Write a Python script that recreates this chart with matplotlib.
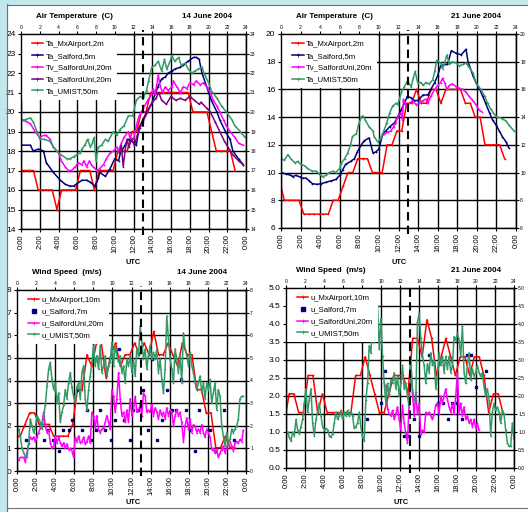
import numpy as np
import matplotlib
matplotlib.use("Agg")
from matplotlib import pyplot as plt
from matplotlib.patches import Rectangle
from matplotlib.lines import Line2D

plt.rcParams['font.family'] = ['Liberation Sans', 'DejaVu Sans']

# ---------------- data ----------------
# airport reports (hh:20 / hh:50)
hrs_ap = np.r_[0, np.arange(1 / 3, 23, 0.5)]

# 14 June - air temperature
ta_ap_14 = [17, 17, 17, 17, 16, 16, 16, 16, 15, 16, 16, 16, 16, 17, 17, 17, 16, 17, 17, 17,
            17, 18, 18, 18, 19, 19, 20, 20, 21, 21, 21, 21, 21, 21, 21, 21, 21, 20, 20, 20,
            20, 19, 18, 18, 18, 18, 17]
h_sal_14 = [0, 1.0, 1.3, 1.85, 2.4, 2.7, 3.45, 4.2, 4.7, 5.2, 5.6, 5.9, 6.5, 7.0, 7.4, 7.9,
            8.25, 8.4, 9.0, 9.5, 10.0, 10.4, 10.6, 11.1, 11.4, 11.8, 12.3, 12.6, 13.0, 13.4,
            13.9, 14.3, 14.6, 15.0, 15.4, 15.7, 16.1, 16.4, 17.0, 17.3, 17.8, 18.4, 18.7,
            19.0, 19.3, 19.8, 20.3, 20.9, 21.2, 21.8, 22.3, 22.6, 23.2, 23.7]
ta_sal_14 = [18.3, 18.3, 18.0, 18.1, 18.0, 17.4, 16.9, 16.5, 16.3, 16.2, 16.2, 16.3, 16.5,
             16.5, 16.4, 16.2, 16.6, 16.9, 16.7, 17.1, 17.6, 17.5, 17.9, 18.3, 18.6, 18.5,
             18.3, 19.2, 19.6, 20.0, 20.4, 20.9, 21.3, 21.7, 21.8, 22.0, 22.1, 22.2, 22.3,
             22.4, 22.6, 22.8, 22.8, 22.7, 22.0, 21.3, 20.6, 20.0, 19.6, 19.0, 18.6, 18.0,
             17.6, 17.3]
h_tvsu_14 = [0, 0.6, 1.0, 1.5, 2.0, 2.4, 2.7, 3.1, 3.45, 4.0, 4.3, 4.7, 5.05, 5.4, 5.8, 6.1,
             6.5, 6.7, 7.0, 7.3, 7.5, 7.7, 8.1, 8.4, 8.8, 9.1, 9.5, 9.85, 10.2, 10.4, 10.7,
             11.0, 11.45, 11.6, 12.0, 12.3, 12.6, 13.05, 13.4, 13.9, 14.1, 14.3, 14.65, 14.8,
             15.1, 15.4, 15.7, 16.1, 16.25, 16.6, 17.0, 17.3, 17.7, 18.0, 18.4, 18.7, 19.1,
             19.45, 19.8, 20.2, 20.5, 20.9, 21.2, 21.6, 21.9, 22.3, 22.8, 23.2, 23.7]
tv_su_14 = [19.6, 19.5, 19.4, 19.0, 18.7, 18.8, 18.8, 18.6, 18.2, 17.9, 17.5, 17.2, 17.0,
            17.0, 17.2, 17.4, 17.3, 17.5, 17.2, 17.5, 17.3, 17.2, 17.0, 17.1, 17.3, 17.6,
            17.9, 18.0, 18.2, 18.0, 18.4, 18.7, 19.0, 18.7, 18.6, 19.3, 19.8, 20.2, 20.5,
            20.9, 21.2, 20.9, 21.9, 21.4, 21.0, 21.3, 21.1, 21.3, 21.6, 21.3, 21.0, 21.3,
            21.2, 21.5, 21.4, 21.6, 21.4, 21.5, 21.3, 21.0, 20.6, 20.3, 20.0, 19.6, 19.3,
            19.0, 18.7, 18.4, 18.3]
h_tasu_14 = [10.5, 10.7, 10.9, 11.1, 11.3, 11.5, 11.8, 12.1, 12.4, 12.7, 13.0, 13.5, 14.0,
             14.4, 14.7, 15.0, 15.5, 16.0, 16.5, 17.0, 17.5, 18.0, 18.5, 19.0, 19.2, 19.8,
             20.2, 20.7, 21.2, 21.7, 22.2, 22.6, 23.2, 23.7]
ta_su_14 = [17.9, 18.3, 17.2, 18.0, 18.6, 18.2, 18.6, 18.3, 18.8, 19.2, 19.5, 20.0, 20.5,
            20.7, 21.0, 20.6, 20.4, 20.8, 20.6, 20.7, 20.6, 20.8, 20.6, 20.4, 20.5, 20.2,
            20.0, 19.5, 19.0, 18.5, 18.1, 17.8, 17.5, 17.3]
h_um_14 = [0, 0.4, 1.0, 1.3, 1.7, 2.0, 2.5, 3.1, 3.45, 4.0, 4.3, 4.9, 5.2, 5.6, 5.9, 6.3, 6.5,
           6.8, 7.1, 7.4, 7.6, 7.8, 8.0, 8.25, 8.6, 9.0, 9.3, 9.85, 10.2, 10.55, 11.0, 11.45,
           11.9, 12.3, 12.7, 13.05, 13.4, 13.6, 13.95, 14.3, 14.65, 15.0, 15.3, 15.55, 15.9,
           16.1, 16.4, 16.8, 17.1, 17.5, 17.85, 18.2, 18.55, 18.9, 19.3, 19.6, 20.0, 20.3,
           20.9, 21.4, 21.9, 22.5, 22.8, 23.4, 23.9]
ta_um_14 = [19.6, 19.6, 19.7, 19.5, 19.0, 18.6, 18.6, 18.5, 18.2, 17.9, 17.8, 17.6, 17.6,
            17.7, 17.8, 17.9, 18.1, 18.3, 18.6, 18.2, 18.4, 18.7, 17.5, 18.2, 18.3, 18.6,
            18.5, 19.0, 18.8, 19.1, 19.3, 19.8, 19.8, 20.6, 20.8, 20.7, 21.1, 21.6, 22.3,
            22.4, 22.6, 22.1, 22.7, 22.2, 22.6, 22.9, 22.6, 22.8, 22.4, 22.5, 22.2, 22.0,
            22.1, 22.2, 22.3, 21.9, 21.5, 21.1, 20.7, 20.3, 20.0, 19.6, 19.3, 19.0, 18.7]

# 21 June - air temperature
ta_ap_21 = [9, 8, 8, 8, 8, 7, 7, 7, 7, 7, 7, 8, 8, 9, 10, 10, 11, 11, 11, 10, 10, 10, 12, 12,
            13, 13, 15, 15, 16, 15, 15, 16, 16, 15, 16, 16, 16, 16, 15, 15, 14, 14, 12, 12,
            12, 12, 11]
h_sal_21 = [0, 0.5, 1.0, 1.2, 1.5, 1.9, 2.2, 2.55, 2.9, 3.2, 3.7, 4.1, 4.6, 5.1, 5.6, 6.0, 6.3,
            6.6, 7.1, 7.5, 7.8, 8.2, 8.5, 9.0, 9.4, 9.7, 10.0, 10.4, 10.7, 11.1, 11.6, 11.9,
            12.25, 12.6, 12.9, 13.3, 13.6, 14.0, 14.5, 15.0, 15.3, 15.7, 16.0, 16.3, 16.7,
            17.0, 17.4, 17.9, 18.4, 18.9, 19.1, 19.6, 19.9, 20.3, 20.6, 20.9, 21.3, 21.6,
            22.0, 22.3, 22.6, 23.0, 23.25]
ta_sal_21 = [10.0, 9.9, 9.8, 9.7, 9.8, 9.7, 9.6, 9.6, 9.4, 9.2, 9.15, 9.2, 9.3, 9.4, 9.5, 9.8,
             10.2, 10.6, 10.8, 11.0, 11.5, 12.0, 12.3, 12.5, 11.4, 11.5, 11.7, 12.8, 13.0,
             13.3, 13.6, 14.0, 14.5, 15.0, 15.5, 15.4, 15.2, 15.2, 15.6, 15.6, 16.0, 16.5,
             17.0, 17.7, 17.8, 17.8, 18.8, 18.6, 18.5, 18.9, 18.0, 17.0, 16.5, 16.0, 15.5,
             15.0, 14.3, 13.8, 13.4, 13.0, 12.6, 12.2, 11.8]
h_tvsu_21 = [10.55, 10.9, 11.2, 11.5, 11.7, 11.9, 12.25, 12.4, 12.5, 12.8, 13.1, 13.45, 13.8,
             14.1, 14.5, 14.8, 15.0, 15.3, 15.7, 16.0, 16.3, 16.5, 16.7, 16.95, 17.2, 17.5,
             17.9, 18.2, 18.55, 18.9, 19.2, 19.6, 19.9, 20.25, 20.5]
tv_su_21 = [12.8, 12.9, 13.0, 13.3, 13.6, 14.0, 14.3, 13.8, 15.3, 14.8, 15.0, 15.2, 14.9,
            15.0, 15.2, 15.3, 15.0, 15.5, 16.0, 16.3, 16.5, 16.8, 16.5, 16.0, 16.3, 16.4,
            16.2, 16.1, 16.0, 15.8, 15.5, 15.2, 14.9, 14.5, 14.4]
h_um_21 = [0, 0.35, 0.7, 1.0, 1.4, 1.7, 2.0, 2.4, 2.7, 3.2, 3.6, 3.9, 4.25, 4.6, 4.9, 5.3, 5.6,
           6.0, 6.1, 6.5, 6.8, 7.1, 7.3, 7.7, 7.9, 8.2, 8.35, 8.6, 9.0, 9.4, 9.5, 9.9, 10.2,
           10.55, 10.8, 11.1, 11.4, 11.75, 11.9, 12.1, 12.3, 12.6, 12.9, 13.0, 13.3, 13.5,
           13.7, 13.95, 14.3, 14.5, 14.8, 15.15, 15.5, 15.7, 15.9, 16.3, 16.5, 16.7, 16.95,
           17.2, 17.5, 17.9, 18.2, 18.55, 18.9, 19.2, 19.6, 19.9, 20.4, 20.8, 21.1, 21.4,
           21.8, 22.1, 22.6, 23.0, 23.3, 23.8]
ta_um_21 = [11.0, 10.9, 11.3, 11.0, 10.7, 10.8, 10.6, 10.5, 10.3, 10.1, 10.1, 9.9, 9.7, 9.8,
            10.0, 10.1, 10.0, 10.3, 10.6, 11.0, 11.4, 12.0, 12.6, 12.8, 13.4, 14.0, 14.1,
            13.8, 13.3, 13.0, 12.6, 12.2, 12.5, 13.1, 13.6, 14.3, 14.8, 15.0, 14.9, 15.3,
            15.8, 16.2, 16.6, 16.5, 16.2, 16.8, 17.3, 16.5, 16.5, 16.3, 16.5, 16.4, 16.7,
            17.3, 18.1, 17.9, 17.5, 17.9, 18.5, 17.8, 18.0, 17.9, 17.7, 17.8, 17.9, 17.6,
            17.2, 16.5, 16.0, 15.5, 15.0, 14.6, 14.2, 14.0, 13.9, 13.7, 13.4, 13.0]

# 14 June - wind speed
u_ap_14 = [1.54, 1.54, 2.06, 2.57, 2.57, 2.06, 2.06, 2.06, 1.54, 1.54, 1.54, 1.54, 2.06, 3.6,
           3.6, 5.14, 4.63, 5.66, 5.66, 4.12, 5.14, 5.66, 4.63, 5.14, 5.14, 5.66, 5.14, 5.66,
           5.14, 6.17, 5.14, 5.14, 5.66, 5.14, 4.63, 5.66, 5.14, 5.14, 3.6, 3.6, 2.57, 2.57,
           1.03, 1.03, 1.54, 1.03, 1.03]
h_usal_14 = [0.9, 2.8, 3.3, 3.8, 4.35, 4.8, 5.4, 5.75, 6.3, 6.8, 7.3, 7.8, 8.3, 8.7, 9.2, 9.8,
             10.3, 10.7, 11.2, 11.8, 12.2, 12.7, 13.2, 13.7, 14.2, 14.7, 15.2, 15.7, 16.2,
             16.7, 17.2, 17.7, 18.1, 18.7, 19.1, 20.2, 20.7, 21.7, 22.7]
u_sal_14 = [1.35, 1.35, 1.8, 1.35, 0.9, 1.8, 1.8, 2.25, 3.6, 1.8, 2.7, 1.35, 1.8, 2.7, 1.8,
            1.35, 2.25, 5.4, 2.25, 1.35, 2.7, 2.7, 3.6, 1.8, 4.95, 1.35, 2.25, 3.6, 2.7, 2.7,
            4.05, 2.7, 1.8, 0.9, 2.7, 1.8, 0.9, 2.7, 1.35]
u_su_14 = [0.5, 0.5, 0.6, 0.6, 0.6, 0.4, 0.8, 1.2, 1.5, 1.4,
           1.5, 1.3, 1.5, 1.7, 1.9, 2.1, 2.6, 2.0, 1.7, 1.8,
           1.25, 1.0, 1.1, 1.55, 1.25, 1.5, 1.25, 1.1, 1.25, 1.0,
           1.2, 0.95, 1.0, 0.9, 0.6, 1.5, 1.3, 1.55, 1.25, 1.3,
           1.5, 1.2, 1.3, 1.55, 1.25, 2.6, 2.45, 1.9, 2.45, 1.8,
           1.7, 1.85, 1.9, 2.15, 2.45, 2.15, 1.85, 3.6, 3.3, 2.6,
           3.2, 4.35, 3.2, 2.45, 2.6, 2.15, 2.7, 2.15, 3.2, 2.45,
           2.7, 3.3, 2.6, 2.7, 2.9, 2.45, 3.45, 3.3, 2.6, 2.7,
           2.6, 2.95, 2.45, 2.8, 2.6, 2.3, 2.7, 2.45, 2.6, 2.3,
           2.8, 2.45, 2.7, 2.6, 2.0, 2.45, 2.7, 2.45, 2.6, 2.15,
           1.3, 2.0, 2.35, 1.85, 2.3, 1.7, 2.05, 2.0, 1.7, 1.85,
           1.7, 2.05, 1.7, 1.5, 1.85, 1.7, 1.5, 0.95, 1.0, 0.8,
           0.95, 0.6, 0.8, 0.95, 1.1, 0.8, 1.0, 1.3, 1.3, 1.1,
           0.9, 1.25, 1.3, 1.25, 1.4, 1.3, 1.8]
u_um_14 = [1.8, 1.85, 1.5, 1.0, 0.8, 0.65, 0.6, 1.25, 2.3, 2.0,
           1.7, 1.9, 2.45, 2.3, 2.15, 1.85, 2.45, 2.9, 3.75, 4.5,
           4.8, 4.05, 3.6, 3.9, 3.0, 3.45, 2.15, 2.6, 2.9, 3.6,
           3.2, 3.9, 4.35, 3.7, 3.3, 3.0, 3.7, 3.9, 3.2, 4.35,
           4.65, 3.2, 2.7, 3.6, 4.2, 4.8, 5.55, 4.65, 5.1, 4.5,
           5.55, 4.35, 4.65, 5.1, 4.2, 4.65, 4.8, 5.7, 4.65, 5.55,
           5.1, 4.8, 5.1, 4.35, 4.65, 3.9, 4.95, 4.65, 5.1, 4.35,
           4.95, 4.2, 5.4, 5.1, 6.4, 5.7, 4.95, 5.4, 4.5, 5.1,
           5.55, 4.95, 5.25, 4.95, 5.4, 4.35, 4.95, 4.05, 3.45, 4.5,
           6.85, 5.85, 4.95, 4.5, 3.9, 5.4, 4.95, 4.35, 5.1, 3.9,
           6.1, 5.4, 5.1, 4.65, 5.25, 4.65, 4.35, 3.9, 3.6, 3.9,
           4.2, 3.45, 3.9, 3.2, 3.9, 3.6, 4.05, 3.0, 3.45, 3.9,
           2.7, 3.6, 3.3, 2.0, 1.55, 1.1, 1.7, 1.25, 1.4, 1.85,
           1.7, 1.85, 2.0, 2.3, 3.2, 3.3, 3.3]

# 21 June - wind speed
u_ap_21 = [1.54, 2.06, 2.06, 1.54, 1.54, 2.57, 2.57, 1.54, 2.06, 1.54, 1.54, 1.54, 1.54, 1.54,
           1.54, 2.57, 2.57, 3.09, 2.57, 2.06, 1.54, 1.54, 2.06, 2.57, 2.57, 2.57, 2.06, 3.6,
           3.6, 3.09, 4.12, 3.6, 2.57, 3.09, 3.6, 3.09, 2.57, 3.09, 3.09, 2.57, 3.09, 3.09,
           2.57, 1.54, 2.06, 2.06, 1.54]
h_usal_21 = [8.5, 10.0, 10.45, 12.4, 12.95, 13.5, 14.0, 15.0, 16.0, 16.55, 17.0, 17.5, 18.0,
             18.5, 19.0, 19.5, 20.0, 21.0]
u_sal_21 = [1.35, 1.8, 2.7, 0.9, 0.9, 1.35, 0.9, 3.15, 1.8, 1.8, 1.35, 1.8, 1.8, 1.35, 3.15,
            3.15, 2.25, 2.7]
u_su_21 = [2.3, 1.65, 1.5, 1.45, 1.6, 1.35, 1.5, 1.7, 1.35, 1.05,
           1.75, 1.25, 0.95, 0.7, 1.85, 2.85, 2.1, 1.45, 2.1, 1.5,
           1.8, 0.95, 1.05, 1.0, 1.55, 1.5, 1.55, 1.45, 1.35, 1.5,
           1.75, 1.8, 1.5, 2.0, 1.8, 2.0, 2.2, 1.9, 1.7, 1.55,
           1.8, 1.5, 2.0, 2.65, 1.5, 1.8, 1.45, 1.7, 1.35, 1.45,
           1.25, 1.35, 1.15, 1.35, 1.1, 1.25, 1.05]
u_um_21 = [0.93, 1.0, 0.85, 0.75, 1.0, 0.9, 1.35, 1.05, 0.95, 1.15,
           1.35, 1.8, 2.2, 1.55, 1.9, 2.2, 1.25, 0.9, 1.35, 1.55,
           1.8, 1.45, 1.15, 1.05, 1.1, 1.05, 0.9, 0.85, 0.95, 1.25,
           1.55, 1.35, 1.45, 1.6, 1.35, 1.55, 1.45, 1.6, 1.45, 1.55,
           1.45, 1.1, 1.15, 1.25, 1.55, 1.15, 0.85, 0.75, 1.9, 2.35,
           3.4, 3.2, 4.05, 3.5, 4.25, 4.5, 3.3, 4.15, 3.1, 2.35,
           1.8, 2.35, 2.0, 2.45, 2.35, 2.65, 2.2, 2.55, 2.0, 2.35,
           2.85, 2.2, 2.35, 2.0, 1.7, 3.0, 2.2, 1.9, 1.9, 4.05,
           4.3, 3.6, 3.1, 2.85, 2.35, 2.9, 2.65, 3.2, 2.85, 3.0,
           2.2, 2.55, 3.2, 2.85, 3.1, 2.65, 3.1, 2.75, 3.1, 2.65,
           2.85, 3.65, 3.55, 3.75, 3.55, 3.1, 3.95, 2.65, 2.35, 2.85,
           3.2, 2.45, 2.75, 2.55, 2.65, 2.85, 2.65, 2.55, 2.65, 2.25,
           2.0, 2.2, 1.9, 0.9, 1.55, 1.8, 1.6, 1.7, 1.55, 1.25,
           1.6, 1.5, 1.05, 0.7, 0.6, 0.6, 1.25, 0.8]

# 10-minute series time bases
t_su_14 = np.linspace(0, 23.72, len(u_su_14))
t_um_14 = np.linspace(0, 23.72, len(u_um_14))
t_su_21 = np.linspace(10.51, 20.32, len(u_su_21))
t_um_21 = np.linspace(0, 24, len(u_um_21))

RED, NAVY, MAG, PURP, GRN = '#ff0000', '#000080', '#ff00ff', '#800080', '#339966'
W, H = 528, 512


def rect(l, t, r, b):
    return [l / W, 1 - b / H, (r - l) / W, (b - t) / H]


def style(ax, ylim, yticks, ylabels):
    ax.set_xlim(0, 24)
    ax.set_ylim(*ylim)
    hours = list(range(0, 25, 2))
    ax.set_xticks(hours)
    ax.set_xticklabels(['%d:00' % (h % 24) for h in hours], rotation=90, fontsize=5.5)
    ax.set_yticks(yticks)
    ax.set_yticklabels(ylabels, fontsize=6)
    ax.tick_params(axis='x', length=2, direction='out', pad=2)
    ax.tick_params(axis='y', length=4, direction='inout', pad=2)
    ax.grid(True, color='black', lw=1.0)
    ax.set_axisbelow(True)
    for s in ax.spines.values():
        s.set_linewidth(1.0)
    top = ax.secondary_xaxis('top')
    top.set_xticks(hours)
    top.tick_params(labelsize=3.6, direction='inout', length=4, pad=1)
    right = ax.secondary_yaxis('right')
    right.set_yticks(yticks)
    right.set_yticklabels(ylabels)
    right.tick_params(labelsize=3.6, direction='inout', length=4, pad=1)
    ax.plot([13, 13], [-0.03, 1.02], transform=ax.get_xaxis_transform(), color='black',
            lw=1.5, dashes=(4, 2.5), clip_on=False, zorder=5)


def legend(ax):
    leg = ax.legend(loc='upper left', bbox_to_anchor=(6 / 228, 1 - 2 / 190), borderaxespad=0,
                    borderpad=0.6, prop={'size': 5.6}, handlelength=1.5, handletextpad=0.3,
                    labelspacing=0.55, frameon=True, facecolor='white', edgecolor='none',
                    framealpha=1, fancybox=False, markerscale=1.8)
    leg.set_zorder(6)
    return leg


def cover(ax, leg):
    # white strip between the axis edge and the legend box
    fig.canvas.draw()
    bb = leg.get_window_extent().transformed(ax.transAxes.inverted())
    ax.add_patch(Rectangle((0, bb.y0), bb.x1, 1 - bb.y0, transform=ax.transAxes,
                           facecolor='white', edgecolor='none', zorder=1))


kw = dict(lw=1.1, marker='+', ms=1.6, mew=0.5)

fig = plt.figure(figsize=(W / 100, H / 100), dpi=100)

# background frame
fig.patches.append(Rectangle((0, 0), 7 / W, 1, transform=fig.transFigure, color='#c2e8ec', zorder=-5))
fig.patches.append(Rectangle((0, 1 - 4 / H), 1, 4 / H, transform=fig.transFigure, color='#c2e8ec', zorder=-5))
for xs, ys in [([7 / W, 7 / W], [0, 1 - 4 / H]), ([7 / W, 1], [1 - 4.5 / H, 1 - 4.5 / H]),
               ([7 / W, 1], [1 - 508 / H, 1 - 508 / H])]:
    fig.add_artist(Line2D(xs, ys, transform=fig.transFigure, color='#707070', lw=0.8))

# ---- panel 1: air temperature 14 June
ax1 = fig.add_axes(rect(21, 34, 246, 229))
ax1.plot(hrs_ap, ta_ap_14, color=RED, label='Ta_MxAirport,2m', **kw)
ax1.plot(h_sal_14, ta_sal_14, color=NAVY, label='Ta_Salford,5m', **kw)
ax1.plot(h_tvsu_14, tv_su_14, color=MAG, label='Tv_SalfordUni,20m', **kw)
ax1.plot(h_tasu_14, ta_su_14, color=PURP, label='Ta_SalfordUni,20m', **kw)
ax1.plot(h_um_14, ta_um_14, color=GRN, label='Ta_UMIST,50m', **kw)
style(ax1, (14, 24), list(range(14, 25)), [str(v) for v in range(14, 25)])
leg1 = legend(ax1)

# ---- panel 2: air temperature 21 June
ax2 = fig.add_axes(rect(281, 34, 516, 228))
ax2.plot(hrs_ap, ta_ap_21, color=RED, label='Ta_MxAirport,2m', **kw)
ax2.plot(h_sal_21, ta_sal_21, color=NAVY, label='Ta_Salford,5m', **kw)
ax2.plot(h_tvsu_21, tv_su_21, color=MAG, label='Tv_SalfordUni,20m', **kw)
ax2.plot(h_um_21, ta_um_21, color=GRN, label='Ta_UMIST,50m', **kw)
style(ax2, (6, 20), list(range(6, 21, 2)), [str(v) for v in range(6, 21, 2)])
leg2 = legend(ax2)

# ---- panel 3: wind speed 14 June
ax3 = fig.add_axes(rect(17, 290, 246, 471))
ax3.plot(hrs_ap, u_ap_14, color=RED, label='u_MxAirport,10m', **kw)
ax3.plot(h_usal_14, u_sal_14, ls='none', marker='s', ms=1.5, color=NAVY, label='u_Salford,7m')
ax3.plot(t_su_14, u_su_14, color=MAG, label='u_SalfordUni,20m', **kw)
ax3.plot(t_um_14, u_um_14, color=GRN, label='u_UMIST,50m', **kw)
style(ax3, (0, 8), list(range(0, 9)), [str(v) for v in range(0, 9)])
leg3 = legend(ax3)

# ---- panel 4: wind speed 21 June
ax4 = fig.add_axes(rect(286, 288, 514, 468))
ax4.plot(hrs_ap, u_ap_21, color=RED, label='u_MxAirport,10m', **kw)
ax4.plot(h_usal_21, u_sal_21, ls='none', marker='s', ms=1.5, color=NAVY, label='u_Salford,7m')
ax4.plot(t_su_21, u_su_21, color=MAG, label='u_SalfordUni,20m', **kw)
ax4.plot(t_um_21, u_um_21, color=GRN, label='u_UMIST,50m', **kw)
yt4 = [i * 0.5 for i in range(11)]
style(ax4, (0, 5), yt4, ['%.1f' % v for v in yt4])
leg4 = legend(ax4)

# titles and axis captions
tkw = dict(fontsize=5.8, fontweight='bold', va='center')
fig.text(36 / W, 1 - 16 / H, 'Air Temperature  (C)', ha='left', **tkw)
fig.text(232 / W, 1 - 16 / H, '14 June 2004', ha='right', **tkw)
fig.text(296 / W, 1 - 17 / H, 'Air Temperature  (C)', ha='left', **tkw)
fig.text(501 / W, 1 - 17 / H, '21 June 2004', ha='right', **tkw)
fig.text(32 / W, 1 - 273 / H, 'Wind Speed  (m/s)', ha='left', **tkw)
fig.text(227 / W, 1 - 273 / H, '14 June 2004', ha='right', **tkw)
fig.text(296 / W, 1 - 271 / H, 'Wind Speed  (m/s)', ha='left', **tkw)
fig.text(501 / W, 1 - 271 / H, '21 June 2004', ha='right', **tkw)
ukw = dict(fontsize=5.3, fontweight='bold', ha='center', va='center')
fig.text(133 / W, 1 - 262 / H, 'UTC', **ukw)
fig.text(399 / W, 1 - 262 / H, 'UTC', **ukw)
fig.text(133 / W, 1 - 503 / H, 'UTC', **ukw)
fig.text(401 / W, 1 - 502 / H, 'UTC', **ukw)

for a, lg in [(ax1, leg1), (ax2, leg2), (ax3, leg3), (ax4, leg4)]:
    cover(a, lg)

fig.savefig('out.png', dpi=100, facecolor='white')
